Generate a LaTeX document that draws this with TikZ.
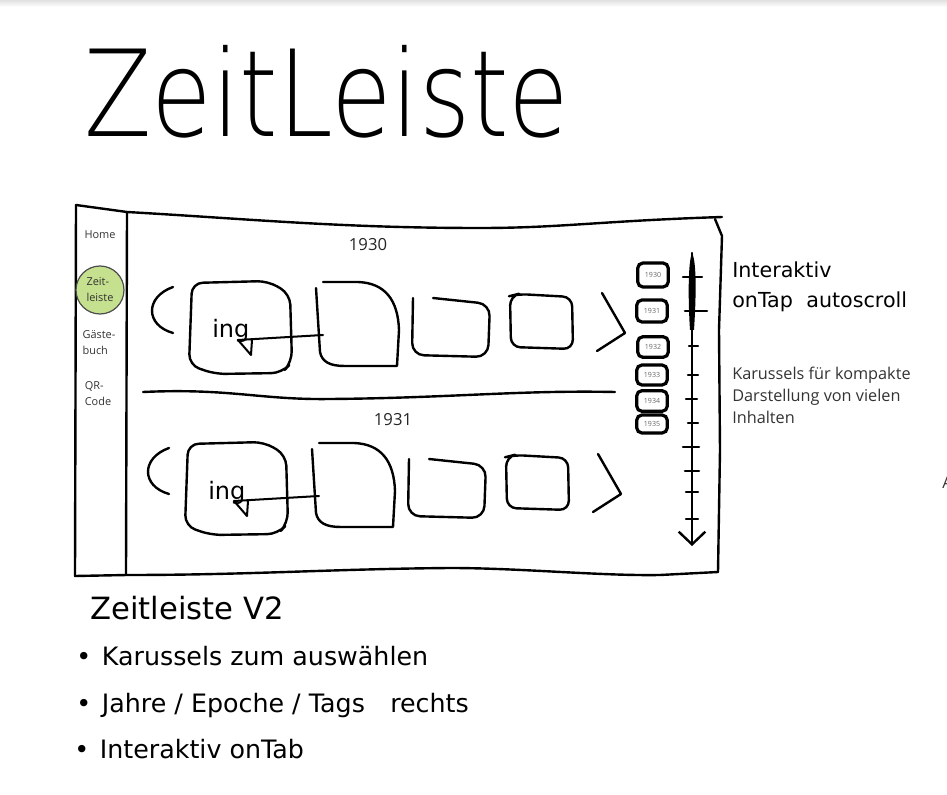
\documentclass[tikz,border=0pt]{standalone}
\usepackage{fontspec}
\setmainfont{Open Sans}
\newfontfamily\handfont{DejaVu Sans}
\newfontfamily\titlefont{DejaVu Sans ExtraLight}
\usetikzlibrary{arrows.meta}
\definecolor{zeitgreen}{RGB}{197,224,143}
\tikzset{
  pen/.style={line width=1.8pt, line cap=round, line join=round},
  navtext/.style={inner sep=0pt, align=left, text=black!80, font=\fontsize{8.2}{12}\selectfont},
  navdot/.style={navtext, circle, draw=black!70, line width=0.9pt, fill=zeitgreen, minimum size=36pt},
  yeartext/.style={inner sep=0pt, text=black!85, font=\fontsize{12.5}{14}\selectfont},
  yeartab/.style={draw, line width=2.4pt, rounded corners=4pt, minimum width=23pt, inner sep=0pt, text=black!60, font=\fontsize{5.3}{6}\selectfont},
  handtext/.style={inner sep=0pt, anchor=base west, font=\handfont\fontsize{#1}{#1}\selectfont},
  infotext/.style={inner sep=0pt, align=left, text=black!80, font=\fontsize{12.2}{16.5}\selectfont},
}
\begin{document}
\begin{tikzpicture}[x=0.75pt, y=-0.75pt, >={Straight Barb[length=9.5pt,width=20pt]}]
	\useasboundingbox (0,0) rectangle (947,795);
	% ------------------ 层 0: 顶部阴影与标题 ------------------
	\shade[top color=black!12, bottom color=white] (0,0) rectangle (947,7);
	\node[anchor=base west, inner sep=0pt, font=\titlefont\fontsize{90}{90}\selectfont] (title) at (84,137) {\scalebox{0.82}[1]{ZeitLeiste}};
	
	% ------------------ 层 1: 外框与侧栏 ------------------
	\draw[pen] (76,205) -- (127,212) .. controls (250,219) and (340,228) .. (480,228) .. controls (560,228) and (600,221) .. (722,217);
	\draw[pen] (715,219) -- (722,236) -- (719,330) -- (720,450) -- (718,572);
	\draw[pen] (718,572) -- (660,575) .. controls (600,576) and (520,568) .. (450,568) .. controls (330,569) and (250,575) .. (127,575) -- (75,576) -- (76,205);
	\draw[pen] (127,212) -- (126,575);
	
	\node[navtext] (home) at (100,235) {Home};
	\node[navdot] (zeit) at (100,290) {Zeit-\\leiste};
	\node[navtext] (gaeste) at (99,343) {Gäste-\\buch};
	\node[navtext] (qrcode) at (98,394) {QR-\\Code};
	
	% ------------------ 层 2: 上方轮播 (1930) ------------------
	\node[yeartext] (jahr1) at (368,245) {1930};
	\begin{scope}
		% 左右箭头
		\draw[pen] (173,287) .. controls (145,297) and (145,325) .. (173,333);
		\draw[pen] (602,293) -- (625,333) -- (597,351);
		% 卡片
		\draw[pen, rounded corners=8pt] (192,283) -- (268,281) -- (290,294) -- (292,362) -- (282,373) -- (215,374) -- (189,365) -- cycle;
		\draw[pen] (316,288) -- (320,352) .. controls (322,362) and (330,366) .. (345,366) -- (397,366) -- (399,330) .. controls (398,300) and (385,283) .. (358,282) -- (323,282);
		\draw[pen, rounded corners=9pt] (433,298) -- (490,304) -- (488,357) -- (412,355) -- (413,298);
		\draw[pen, rounded corners=7pt] (518,294) -- (572,297) -- (573,349) -- (511,347) -- (510,296) -- cycle;
		% 图片与连线
		\node[handtext=18] (ing1) at (212,338) {ing};
		\coordinate (kante1) at (323,335);
		\coordinate (spitze1) at (238,340);
		\draw[pen, line width=1.5pt] (kante1) -- (spitze1) -- ++(13,15) -- ++(1,-15);
	\end{scope}
	
	% 分隔线
	\draw[pen] (143,392) .. controls (230,388) and (260,400) .. (330,399) .. controls (450,398) and (520,390) .. (615,392);
	
	% ------------------ 层 3: 下方轮播 (1931) ------------------
	\node[yeartext] (jahr2) at (393,420) {1931};
	\begin{scope}[shift={(-4,161)}]
		% 左右箭头
		\draw[pen] (173,287) .. controls (145,297) and (145,325) .. (173,333);
		\draw[pen] (602,293) -- (625,333) -- (597,351);
		% 卡片
		\draw[pen, rounded corners=8pt] (192,283) -- (268,281) -- (290,294) -- (292,362) -- (282,373) -- (215,374) -- (189,365) -- cycle;
		\draw[pen] (316,288) -- (320,352) .. controls (322,362) and (330,366) .. (345,366) -- (397,366) -- (399,330) .. controls (398,300) and (385,283) .. (358,282) -- (323,282);
		\draw[pen, rounded corners=9pt] (433,298) -- (490,304) -- (488,357) -- (412,355) -- (413,298);
		\draw[pen, rounded corners=7pt] (518,294) -- (572,297) -- (573,349) -- (511,347) -- (510,296) -- cycle;
		% 图片与连线
		\node[handtext=18] (ing2) at (212,338) {ing};
		\coordinate (kante2) at (323,335);
		\coordinate (spitze2) at (238,340);
		\draw[pen, line width=1.5pt] (kante2) -- (spitze2) -- ++(13,15) -- ++(1,-15);
	\end{scope}
	
	% ------------------ 层 4: 年份标签与时间轴 ------------------
	\node[yeartab, minimum height=18pt] (tab30) at (653,275) {1930};
	\node[yeartab, minimum height=16.5pt] (tab31) at (652,311) {1931};
	\node[yeartab, minimum height=15.5pt] (tab32) at (653,347) {1932};
	\node[yeartab, minimum height=15pt] (tab33) at (652,375) {1933};
	\node[yeartab, minimum height=15.5pt] (tab34) at (652,401) {1934};
	\node[yeartab, minimum height=13.5pt] (tab35) at (652,424) {1935};
	
	\coordinate (achse) at (692,253);
	\coordinate (ende) at (692,546);
	\draw[pen, ->] (achse) -- (ende);
	\fill (692,253) .. controls (697,262) and (696,300) .. (694,330) -- (690,330) .. controls (688,300) and (688,262) .. (692,253) -- cycle;
	% 刻度
	\draw[pen] (683,277) -- (702,277);
	\draw[pen] (685,311) -- (707,311);
	\draw[pen] (689,346) -- (698,346);
	\draw[pen] (688,375) -- (698,375);
	\draw[pen] (686,399) -- (697,399);
	\draw[pen] (688,423) -- (698,423);
	\draw[pen] (683,447) -- (699,447);
	\draw[pen] (685,471) -- (699,471);
	\draw[pen] (686,492) -- (698,492);
	\draw[pen] (686,519) -- (698,519);
	
	% ------------------ 层 5: 右侧说明 ------------------
	\node[handtext=15.5] (interaktiv) at (732,277) {Interaktiv};
	\node[handtext=15.5] (ontap) at (732,308) {onTap\hspace{10pt}autoscroll};
	\node[infotext, anchor=north west] (karussel) at (732,367) {Karussels für kompakte\\Darstellung von vielen\\Inhalten};
	\node[infotext, anchor=base west] (rand) at (942,488) {A};
	
	% ------------------ 层 6: 下方笔记 ------------------
	\node[handtext=23] (version) at (90,619) {Zeitleiste V2};
	\node[handtext=19] (punkt1) at (76,665) {•\hspace{8pt}Karussels zum auswählen};
	\node[handtext=19] (punkt2) at (76,712) {•\hspace{8pt}Jahre / Epoche / Tags\quad rechts};
	\node[handtext=19] (punkt3) at (74,758) {•\hspace{8pt}Interaktiv onTab};
\end{tikzpicture}
\end{document}
